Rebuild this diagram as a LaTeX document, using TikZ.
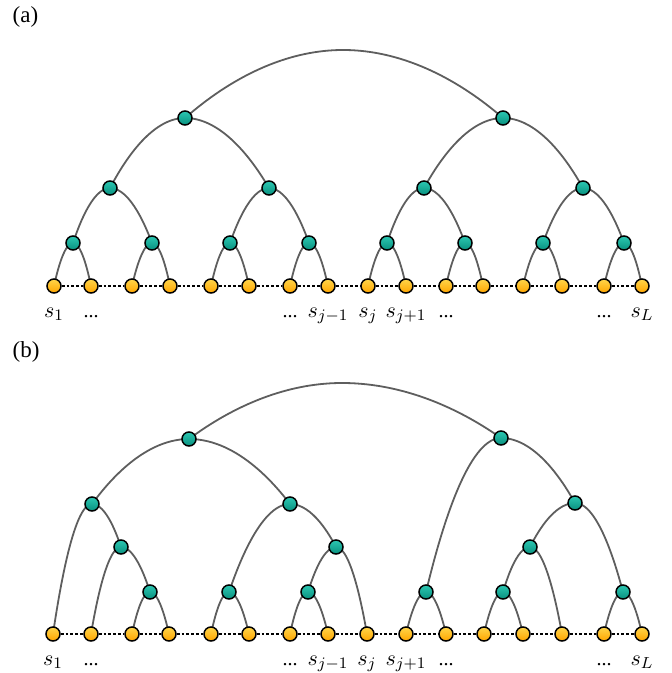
\documentclass[tikz,border=0pt]{standalone}
\usepackage{fontspec}
\setmainfont{Liberation Serif}
\usetikzlibrary{backgrounds}
\definecolor{tealA}{HTML}{2CC7B2}
\definecolor{tealB}{HTML}{09917F}
\definecolor{yelA}{HTML}{FFD54A}
\definecolor{yelB}{HTML}{FFA500}
\definecolor{edgegray}{HTML}{5E5E5E}
\tikzset{
  inner/.style={circle, draw=black, line width=0.75pt, minimum size=7pt, inner sep=0pt, top color=tealA, bottom color=tealB},
  leaf/.style={circle, draw=black, line width=0.75pt, minimum size=7pt, inner sep=0pt, top color=yelA, bottom color=yelB},
  arch/.style={draw=edgegray, line width=0.9pt},
  chain/.style={draw=black, line width=0.6pt, dash pattern=on 1.4pt off 1pt},
  lab/.style={anchor=base, inner sep=0pt, font=\fontsize{11}{13}\selectfont},
  dots/.style={anchor=base, inner sep=0pt, font=\fontsize{10}{12}\selectfont},
  panel/.style={inner sep=0pt, font=\fontsize{11.5}{13}\selectfont}
}
\begin{document}
\begin{tikzpicture}[x=0.5pt, y=-0.5pt]
\useasboundingbox (0,0) rectangle (672,673);
% ---------------- panel (a)
\node[panel] (pa) at (25.5,17) {(a)};
\foreach \x [count=\i from 0] in {54,91,132,170,211,249,290,328,368,406,446,483,523,562,604,642}
  \node[leaf] (la\i) at (\x,286) {};
\foreach \x [count=\i from 0] in {73,152,230,309,387,465,543,624}
  \node[inner] (ma\i) at (\x,243) {};
\foreach \x [count=\i from 0] in {110,269,424,583}
  \node[inner] (na\i) at (\x,188) {};
\node[inner] (oa0) at (185,118) {};
\node[inner] (oa1) at (503,118) {};
\coordinate (topa) at (343,50);
\begin{pgfonlayer}{background}
  \foreach \k in {0,...,7}{
    \pgfmathtruncatemacro{\l}{2*\k}\pgfmathtruncatemacro{\r}{2*\k+1}
    \draw[arch] (la\l.center) parabola bend (ma\k.center) (la\r.center);
  }
  \foreach \k in {0,...,3}{
    \pgfmathtruncatemacro{\l}{2*\k}\pgfmathtruncatemacro{\r}{2*\k+1}
    \draw[arch] (ma\l.center) parabola bend (na\k.center) (ma\r.center);
  }
  \draw[arch] (na0.center) parabola bend (oa0.center) (na1.center);
  \draw[arch] (na2.center) parabola bend (oa1.center) (na3.center);
  \draw[arch] (oa0.center) parabola bend (topa) (oa1.center);
  \foreach \k in {0,...,14}{
    \pgfmathtruncatemacro{\n}{\k+1}
    \draw[chain] (la\k) -- (la\n);
  }
\end{pgfonlayer}
\node[lab] (ta0) at ([yshift=-15.5pt]la0.center) {$s_1$};
\node[dots] (ta1) at ([yshift=-15.5pt]la1.center) {...};
\node[dots] (ta6) at ([yshift=-15.5pt]la6.center) {...};
\node[lab] (ta7) at ([yshift=-15.5pt]la7.center) {$s_{j-1}$};
\node[lab] (ta8) at ([yshift=-15.5pt]la8.center) {$s_j$};
\node[lab] (ta9) at ([yshift=-15.5pt]la9.center) {$s_{j+1}$};
\node[dots] (ta10) at ([yshift=-15.5pt]la10.center) {...};
\node[dots] (ta14) at ([yshift=-15.5pt]la14.center) {...};
\node[lab] (ta15) at ([yshift=-15.5pt]la15.center) {$s_L$};
% ---------------- panel (b)
\node[panel] (pb) at (26,352) {(b)};
\foreach \x [count=\i from 0] in {53,91,132,169,211,249,290,328,367,406,446,484,523,562,604,642}
  \node[leaf] (lb\i) at (\x,634) {};
\node[inner] (R1) at (189,439) {};
\node[inner] (R2) at (501,438) {};
\coordinate (topb) at (342,383);
\node[inner] (A) at (92,504) {};
\node[inner] (B) at (290,504) {};
\node[inner] (C) at (121,547) {};
\node[inner] (D) at (150,592) {};
\node[inner] (E) at (229,592) {};
\node[inner] (F) at (336,547) {};
\node[inner] (G) at (308,592) {};
\node[inner] (H) at (426,592) {};
\node[inner] (I) at (575,503) {};
\node[inner] (J) at (530,547) {};
\node[inner] (K) at (623,592) {};
\node[inner] (L) at (503,592) {};
\begin{pgfonlayer}{background}
  \draw[arch] (R1.center) parabola bend (topb) (R2.center);
  \draw[arch] (A.center) parabola bend (R1.center) (B.center);
  \draw[arch] (lb0.center) parabola bend (A.center) (C.center);
  \draw[arch] (lb1.center) parabola bend (C.center) (D.center);
  \draw[arch] (lb2.center) parabola bend (D.center) (lb3.center);
  \draw[arch] (E.center) parabola bend (B.center) (F.center);
  \draw[arch] (lb4.center) parabola bend (E.center) (lb5.center);
  \draw[arch] (G.center) parabola bend (F.center) (lb8.center);
  \draw[arch] (lb6.center) parabola bend (G.center) (lb7.center);
  \draw[arch] (H.center) parabola bend (R2.center) (I.center);
  \draw[arch] (lb9.center) parabola bend (H.center) (lb10.center);
  \draw[arch] (J.center) parabola bend (I.center) (K.center);
  \draw[arch] (L.center) parabola bend (J.center) (lb13.center);
  \draw[arch] (lb11.center) parabola bend (L.center) (lb12.center);
  \draw[arch] (lb14.center) parabola bend (K.center) (lb15.center);
  \foreach \k in {0,...,14}{
    \pgfmathtruncatemacro{\n}{\k+1}
    \draw[chain] (lb\k) -- (lb\n);
  }
\end{pgfonlayer}
\node[lab] (tb0) at ([yshift=-15.5pt]lb0.center) {$s_1$};
\node[dots] (tb1) at ([yshift=-15.5pt]lb1.center) {...};
\node[dots] (tb6) at ([yshift=-15.5pt]lb6.center) {...};
\node[lab] (tb7) at ([yshift=-15.5pt]lb7.center) {$s_{j-1}$};
\node[lab] (tb8) at ([yshift=-15.5pt]lb8.center) {$s_j$};
\node[lab] (tb9) at ([yshift=-15.5pt]lb9.center) {$s_{j+1}$};
\node[dots] (tb10) at ([yshift=-15.5pt]lb10.center) {...};
\node[dots] (tb14) at ([yshift=-15.5pt]lb14.center) {...};
\node[lab] (tb15) at ([yshift=-15.5pt]lb15.center) {$s_L$};
\end{tikzpicture}
\end{document}
